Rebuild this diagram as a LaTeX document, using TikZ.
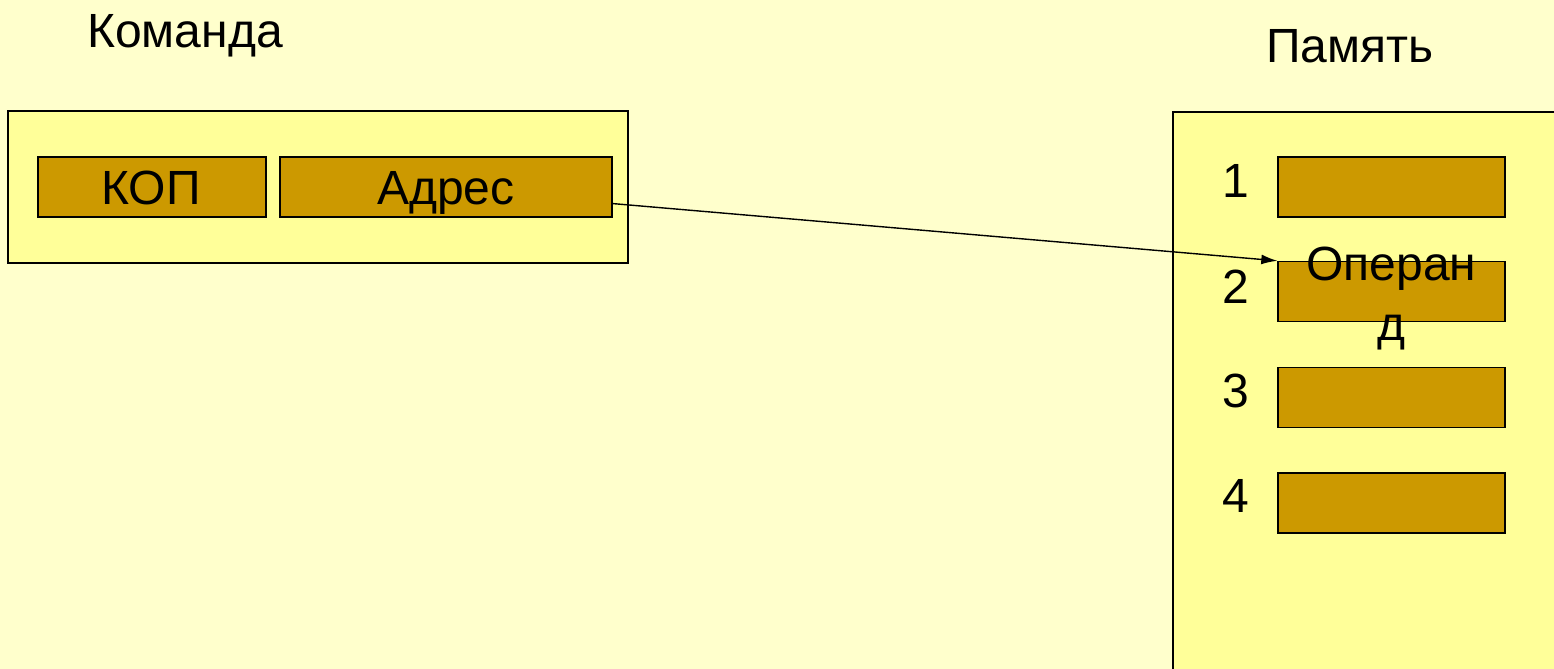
\documentclass[tikz,border=0pt]{standalone}
\usepackage{fontspec}
\setmainfont{Liberation Sans}
\usetikzlibrary{calc,arrows.meta}
\definecolor{pagebg}{HTML}{FFFFCC}
\definecolor{panel}{HTML}{FFFF99}
\definecolor{cellfill}{HTML}{CC9900}
\begin{document}
\begin{tikzpicture}[x=0.5pt,y=-0.5pt,
  panelbox/.style={draw=black, fill=panel, line width=0.8pt, inner sep=0pt},
  cellbox/.style={draw=black, fill=cellfill, line width=0.7pt, inner sep=0pt,
                  minimum height=30pt},
  lbl/.style={font=\fontsize{24}{31}\selectfont, inner sep=0pt, text=black, anchor=base},
  link/.style={draw=black, line width=0.7pt, -{Latex[length=8pt,width=5pt]}},
]
% page
\fill[pagebg] (0,0) rectangle (1554,669);
\useasboundingbox (0,0) rectangle (1554,669);
\clip (0,0) rectangle (1554,669);

% headings
\node[lbl] (tcmd) at (185,47) {Команда};
\node[lbl] (tmem) at (1350,62) {Память};

% instruction register
\node[panelbox, minimum width=310pt, minimum height=76pt] (cmd) at (318,187) {};
\node[cellbox, minimum width=114pt] (kop) at (152,187) {};
\node[lbl] (kopt) at (151,204) {КОП};
\node[cellbox, minimum width=166pt] (adr) at (446,187) {};
\node[lbl] (adrt) at (446,204) {Адрес};

% memory
\node[panelbox, anchor=north west, minimum width=220pt, minimum height=320pt] (mem) at (1172,111) {};
\node[cellbox, minimum width=113.5pt] (c1) at (1391.5,187) {};
\node[cellbox, minimum width=113.5pt] (c2) at (1391.5,291.5) {};
\node[cellbox, minimum width=113.5pt] (c3) at (1391.5,397.5) {};
\node[cellbox, minimum width=113.5pt] (c4) at (1391.5,503) {};
\node[lbl] (n1) at (1236,197) {1};
\node[lbl] (n2) at (1236,303) {2};
\node[lbl] (n3) at (1236,407) {3};
\node[lbl] (n4) at (1236,512) {4};
\node[lbl] (op1) at (1391.5,280) {Операн};
\node[lbl] (op2) at (1391.5,340) {д};

% address points at the operand cell
\coordinate (from) at ($(adr.south east)!0.23!(adr.north east)$);
\draw[link] (from) -- (c2.north west);
\end{tikzpicture}
\end{document}
